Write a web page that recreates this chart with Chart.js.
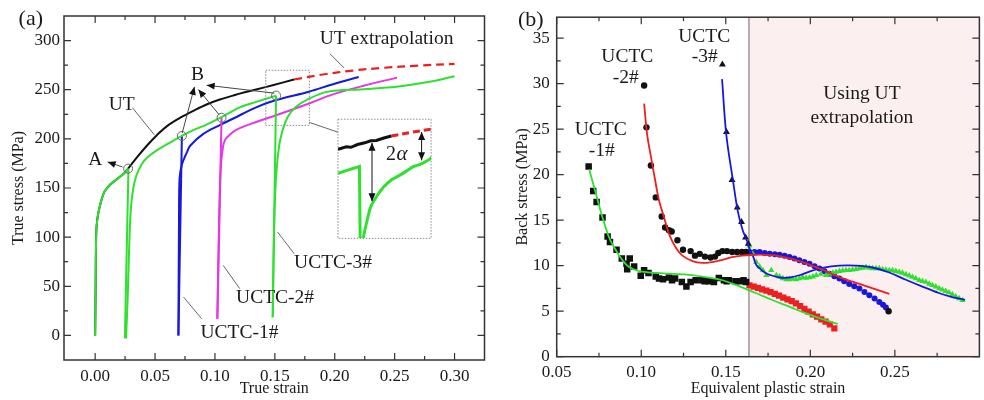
<!DOCTYPE html>
<html>
<head>
<meta charset="utf-8">
<script src="https://cdn.jsdelivr.net/npm/chart.js@4.4.1/dist/chart.umd.min.js"></script>
<style>
  html, body { margin: 0; padding: 0; background: #fff; }
  #wrap { position: relative; width: 984px; height: 400px; overflow: hidden; }
  canvas { position: absolute; top: 0; }
</style>
</head>
<body>
<div id="wrap">
  <canvas id="chartA" width="490" height="400" style="left:0"></canvas>
  <canvas id="chartB" width="494" height="400" style="left:490px"></canvas>
  <canvas id="inset"></canvas>
</div>
<script>
const FONT = '"Liberation Serif", "Times New Roman", serif';
const INK = '#1a1a1a';
const GREEN = '#2fe02f';
const BLUE = '#1818dc';
const MAGENTA = '#e635e6';
const RED = '#ec2020';

// ---------- (a) true stress - true strain ----------
const xTicksA = [0, 0.05, 0.1, 0.15, 0.2, 0.25, 0.3];
const xMinorA = [0.025, 0.075, 0.125, 0.175, 0.225, 0.275];
const yTicksA = [0, 50, 100, 150, 200, 250, 300];
const yMinorA = [25, 75, 125, 175, 225, 275];

// UT test
const utStrain = [0, 0.0004, 0.0009, 0.0018, 0.0036, 0.0077, 0.013, 0.0187, 0.0242, 0.0275, 0.0352, 0.0435, 0.0517, 0.06, 0.0711, 0.082, 0.093, 0.1041, 0.1151, 0.1207, 0.1344, 0.1482, 0.166];
const utStress = [0, 50, 104, 118, 130, 146, 154, 159.5, 165, 169.7, 181.6, 193.5, 204, 213, 221.5, 228.5, 235, 240, 244, 246, 250.2, 254.6, 260.4];
// UT extrapolation
const utExtStrain = [0.166, 0.19, 0.215, 0.24, 0.27, 0.3];
const utExtStress = [260.4, 265.5, 269.5, 272.2, 274.6, 276.3];

// shared UCTC path: first loading, unloading at A, reloading and hardening
const uctcLoadStrain = [0, 0.0004, 0.0009, 0.0018, 0.0036, 0.0077, 0.013, 0.0187, 0.0242, 0.0278];
const uctcLoadStress = [0, 50, 104, 118, 130, 146, 154, 159.5, 165, 169.7];
const uctcDrop0Strain = [0.0278, 0.0248];
const uctcDrop0Stress = [169.7, -3];
const uctcHardenStrain = [0.0258, 0.0272, 0.0283, 0.0297, 0.0316, 0.0345, 0.039, 0.0435, 0.0517, 0.0628, 0.0724, 0.082, 0.093, 0.1055, 0.1207, 0.1344, 0.151];
const uctcHardenStress = [-3, 40, 86, 127, 148, 163, 174.5, 181, 188.5, 196.5, 203, 208.8, 214.5, 222, 232, 237.6, 244];

// UCTC-1# (blue)
const uctc1DropStrain = [0.0724, 0.0695];
const uctc1DropStress = [203, 0];
const uctc1ReloadStrain = [0.0695, 0.07, 0.0705, 0.0724, 0.0765, 0.0793, 0.0903, 0.1041, 0.12, 0.1344, 0.151, 0.1785, 0.1978, 0.22];
const uctc1ReloadStress = [0, 120, 160, 174, 186, 193, 205, 214, 223.5, 232, 239.5, 248, 255.3, 263];

// UCTC-2# (magenta)
const uctc2DropStrain = [0.1055, 0.102];
const uctc2DropStress = [222, 17];
const uctc2ReloadStrain = [0.102, 0.1035, 0.1048, 0.1065, 0.1083, 0.1151, 0.1207, 0.1344, 0.151, 0.1785, 0.1978, 0.224, 0.252];
const uctc2ReloadStress = [17, 120, 170, 190, 198.6, 207, 211, 217.2, 224, 236, 245, 254, 262.3];

// UCTC-3# (green)
const uctc3DropStrain = [0.151, 0.1482];
const uctc3DropStress = [244, 18.6];
const uctc3ReloadStrain = [0.1482, 0.1492, 0.1505, 0.1523, 0.155, 0.1606, 0.1674, 0.1771, 0.1936, 0.224, 0.2514, 0.279, 0.3];
const uctc3ReloadStress = [18.6, 100, 150, 180, 202, 222, 232.5, 240, 247.8, 250.5, 253, 258, 263.7];

// circled points A and B
const markStrain = [0.0275, 0.0724, 0.1055, 0.151];
const markStress = [169.7, 203, 221.5, 244];

// zoom window and inset frame (a)
const zoomBoxStrain = [0.1424, 0.1788];
const zoomBoxStress = [213.7, 269.8];
const insetBoxStrain = [0.2027, 0.2804];
const insetBoxStress = [98.8, 220];

// inset (magnified view)
const insetXRange = [0.1376, 0.1871];
const insetYRange = [226, 268];
const insetUtStrain = [0.1376, 0.142, 0.1445, 0.148, 0.1518, 0.155, 0.158, 0.162, 0.166];
const insetUtStress = [257.3, 258.2, 258.0, 259.0, 259.6, 260.3, 260.4, 261.3, 262];
const insetExtStrain = [0.166, 0.1766, 0.1871];
const insetExtStress = [262, 263.3, 264.4];
const insetDropStrain = [0.1376, 0.142, 0.146, 0.149, 0.1495];
const insetDropStress = [248.8, 249.8, 250.6, 251.3, 218];
const insetReloadStrain = [0.1505, 0.1511, 0.153, 0.155, 0.1585, 0.162, 0.166, 0.1706, 0.174, 0.1777, 0.182, 0.1864, 0.1875];
const insetReloadStress = [220, 226, 232, 237, 241, 244.1, 246.5, 248.2, 249.6, 251.2, 252.2, 253.8, 254.4];
const insetArrowStrain = [0.1557, 0.1821];
const insetArrowTop = [259.6, 263.4];
const insetArrowBottom = [239, 253.4];

// ---------- (b) back stress ----------
const xTicksB = [0.05, 0.1, 0.15, 0.2, 0.25];
const xMinorB = [0.075, 0.125, 0.175, 0.225, 0.275];
const yTicksB = [0, 5, 10, 15, 20, 25, 30, 35];
const yMinorB = [2.5, 7.5, 12.5, 17.5, 22.5, 27.5, 32.5];
const extrapStart = 0.1637;

// UCTC-1#: measured (black squares), from UT extrapolation (red squares), fit (green)
const u1DataStrain = [0.0689, 0.0716, 0.0736, 0.0771, 0.0801, 0.0815, 0.0854, 0.0885, 0.0913, 0.0917, 0.0932, 0.0958, 0.0997, 0.1017, 0.1043, 0.1086, 0.1105, 0.1129, 0.1164, 0.1182, 0.12, 0.124, 0.1267, 0.1292, 0.1322, 0.1361, 0.1375, 0.14, 0.143, 0.1459, 0.1489, 0.1505, 0.1518, 0.1557, 0.1587, 0.1605, 0.162];
const u1DataStress = [20.9, 18.2, 17.0, 15.3, 13.2, 12.6, 11.75, 10.8, 10.2, 9.6, 10.8, 9.9, 8.9, 9.5, 9.2, 8.8, 8.6, 8.5, 8.7, 8.4, 8.6, 8.2, 7.7, 8.2, 8.4, 8.4, 8.3, 8.3, 8.2, 8.65, 8.4, 8.3, 8.4, 8.3, 8.3, 8.4, 8.2];
const u1ExtStrain = [0.164, 0.1665, 0.169, 0.1715, 0.174, 0.1765, 0.179, 0.1815, 0.184, 0.1865, 0.189, 0.1915, 0.194, 0.1965, 0.199, 0.2015, 0.204, 0.2065, 0.209, 0.2115, 0.2142];
const u1ExtStress = [7.85, 7.7, 7.55, 7.4, 7.25, 7.1, 6.9, 6.7, 6.5, 6.3, 6.1, 5.85, 5.55, 5.25, 4.95, 4.65, 4.4, 4.1, 3.85, 3.55, 3.1];
const u1FitStrain = [0.0692, 0.0732, 0.0771, 0.081, 0.085, 0.0889, 0.0928, 0.0988, 0.1086, 0.1184, 0.1282, 0.138, 0.148, 0.1577, 0.1676, 0.1778, 0.1875, 0.1975, 0.2075, 0.2162];
const u1FitStress = [20.6, 17.9, 15.3, 13.1, 11.7, 10.6, 9.85, 9.4, 9.2, 9.1, 9.0, 8.75, 8.4, 7.75, 7.0, 6.2, 5.5, 4.75, 4.1, 3.6];

// UCTC-2#: measured (black circles), extrapolated (blue circles), fit (red)
const u2DataStrain = [0.1017, 0.1031, 0.1057, 0.1086, 0.1121, 0.1141, 0.1164, 0.118, 0.1214, 0.1247, 0.1292, 0.1318, 0.1346, 0.1377, 0.141, 0.1436, 0.1456, 0.148, 0.1507, 0.1538, 0.1567, 0.1596, 0.162, 0.2463];
const u2DataStress = [29.8, 25.2, 21.0, 17.5, 15.4, 14.2, 13.9, 13.75, 12.8, 11.75, 11.6, 11.1, 11.3, 11.0, 10.9, 11.0, 11.4, 11.6, 11.6, 11.5, 11.5, 11.5, 11.5, 5.0];
const u2ExtStrain = [0.164, 0.167, 0.17, 0.173, 0.176, 0.179, 0.1818, 0.1848, 0.1877, 0.1906, 0.1935, 0.1965, 0.1995, 0.2025, 0.2054, 0.2084, 0.2113, 0.2142, 0.2172, 0.22, 0.223, 0.226, 0.229, 0.232, 0.2349, 0.238, 0.2408, 0.243, 0.2447];
const u2ExtStress = [11.5, 11.5, 11.5, 11.4, 11.3, 11.25, 11.2, 11.1, 10.95, 10.8, 10.6, 10.4, 10.2, 9.95, 9.7, 9.4, 9.1, 8.85, 8.6, 8.3, 8.0, 7.75, 7.5, 7.1, 6.75, 6.4, 6.0, 5.7, 5.4];
const u2FitStrain = [0.1017, 0.1035, 0.1057, 0.1086, 0.1106, 0.1135, 0.1164, 0.1204, 0.1244, 0.1303, 0.1361, 0.142, 0.148, 0.1538, 0.1597, 0.1676, 0.1778, 0.1877, 0.1975, 0.2073, 0.2172, 0.229, 0.2467];
const u2FitStress = [27.8, 24.4, 22.0, 19.0, 17.1, 15.3, 13.5, 12.0, 11.1, 10.5, 10.3, 10.4, 10.65, 10.95, 11.1, 11.2, 11.15, 10.8, 10.25, 9.55, 8.75, 8.0, 6.9];

// UCTC-3#: measured (black triangles), extrapolated (green triangles), fit (blue)
const u3DataStrain = [0.148, 0.1504, 0.1537, 0.1568, 0.1593, 0.1617, 0.1633];
const u3DataStress = [32.1, 24.7, 19.4, 16.4, 14.8, 13.1, 12.4];
const u3ExtStrain = [0.164, 0.166, 0.168, 0.17, 0.172, 0.174, 0.1769, 0.1799, 0.1818, 0.1838, 0.1858, 0.1877, 0.1897, 0.1916, 0.1936, 0.1955, 0.1975, 0.1995, 0.2015, 0.2035, 0.2063, 0.2093, 0.2113, 0.2133, 0.2152, 0.2172, 0.2191, 0.2211, 0.223, 0.225, 0.227, 0.229, 0.231, 0.2329, 0.2349, 0.2368, 0.2388, 0.2408, 0.2428, 0.2447, 0.2467, 0.2486, 0.2506, 0.2526, 0.2545, 0.2565, 0.2585, 0.2604, 0.2624, 0.2644, 0.2663, 0.2683, 0.2703, 0.2722, 0.2742, 0.2762, 0.2781, 0.2801, 0.282, 0.284, 0.286, 0.288, 0.29];
const u3ExtStress = [12.2, 11.3, 10.4, 9.9, 9.5, 8.95, 9.5, 8.95, 8.8, 8.6, 8.5, 8.5, 8.55, 8.5, 8.6, 8.7, 8.65, 8.7, 8.8, 8.95, 9.1, 8.95, 9.1, 9.2, 9.3, 9.4, 9.45, 9.5, 9.5, 9.55, 9.6, 9.7, 9.75, 9.85, 9.75, 9.7, 9.7, 9.7, 9.6, 9.55, 9.5, 9.5, 9.4, 9.3, 9.2, 9.05, 8.9, 8.75, 8.6, 8.4, 8.3, 8.2, 8.0, 7.85, 7.7, 7.5, 7.35, 7.2, 7.05, 6.85, 6.6, 6.4, 6.2];
const u3FitStrain = [0.1478, 0.1503, 0.1543, 0.1571, 0.16, 0.1622, 0.164, 0.166, 0.168, 0.17, 0.173, 0.176, 0.1818, 0.1877, 0.1935, 0.1995, 0.2073, 0.2172, 0.227, 0.2368, 0.2467, 0.2565, 0.2663, 0.276, 0.2839, 0.2915];
const u3FitStress = [30.5, 24.4, 19.3, 16.0, 13.9, 12.9, 11.9, 11.1, 10.1, 9.7, 9.25, 9.0, 8.7, 8.7, 8.95, 9.35, 9.75, 10.0, 10.0, 9.8, 9.25, 8.45, 7.7, 7.0, 6.55, 6.25];

// ---------- helpers ----------
function pts(xs, ys) {
  return xs.map((x, i) => ({ x: x, y: ys[i] }));
}

function line(xs, ys, color, width, extra) {
  return Object.assign({
    data: pts(xs, ys), showLine: true, borderColor: color, borderWidth: width,
    pointRadius: 0, tension: 0.35, fill: false
  }, extra || {});
}

function marks(xs, ys, style, color, r) {
  return {
    data: pts(xs, ys), showLine: false, pointStyle: style, pointRadius: r,
    pointBackgroundColor: color, pointBorderColor: color, pointBorderWidth: 0
  };
}

const tickFont = { family: FONT, size: 17 };
const titleFont = { family: FONT, size: 16 };

function xAxis(min, max, ticks, title, height) {
  return {
    type: 'linear', min: min, max: max,
    grid: { display: false, drawTicks: false },
    border: { display: false },
    ticks: { font: tickFont, color: INK, padding: 6, maxRotation: 0, autoSkip: false, callback: v => v.toFixed(2) },
    afterBuildTicks: s => { s.ticks = ticks.map(v => ({ value: v })); },
    afterFit: s => { s.height = height; },
    title: { display: true, text: title, font: titleFont, color: INK, padding: { top: 0, bottom: 2 } }
  };
}

function yAxis(min, max, ticks, title, width, pad, titlePad) {
  return {
    type: 'linear', min: min, max: max,
    grid: { display: false, drawTicks: false },
    border: { display: false },
    ticks: { font: tickFont, color: INK, padding: pad, autoSkip: false, callback: v => String(v) },
    afterBuildTicks: s => { s.ticks = ticks.map(v => ({ value: v })); },
    afterFit: s => { s.width = width; },
    title: { display: true, text: title, font: titleFont, color: INK, padding: { top: titlePad, bottom: 0 } }
  };
}

// box frame with inward ticks on all four sides
function framePlugin(xMajor, xMinor, yMajor, yMinor) {
  return {
    id: 'frame',
    afterDraw(chart) {
      const { ctx, chartArea: a, scales: { x, y } } = chart;
      ctx.save();
      ctx.strokeStyle = '#333';
      ctx.lineWidth = 1.5;
      ctx.strokeRect(a.left, a.top, a.right - a.left, a.bottom - a.top);
      ctx.lineWidth = 1.2;
      ctx.beginPath();
      const vx = (vals, len) => vals.forEach(v => {
        const p = x.getPixelForValue(v);
        ctx.moveTo(p, a.bottom); ctx.lineTo(p, a.bottom - len);
        ctx.moveTo(p, a.top); ctx.lineTo(p, a.top + len);
      });
      const vy = (vals, len) => vals.forEach(v => {
        const p = y.getPixelForValue(v);
        ctx.moveTo(a.left, p); ctx.lineTo(a.left + len, p);
        ctx.moveTo(a.right, p); ctx.lineTo(a.right - len, p);
      });
      vx(xMajor, 7); vx(xMinor, 4); vy(yMajor, 7); vy(yMinor, 4);
      ctx.stroke();
      ctx.restore();
    }
  };
}

function head(ctx, x1, y1, x2, y2, len, half) {
  const a = Math.atan2(y2 - y1, x2 - x1);
  const bx = x2 - len * Math.cos(a), by = y2 - len * Math.sin(a);
  ctx.beginPath();
  ctx.moveTo(x2, y2);
  ctx.lineTo(bx + half * Math.sin(a), by - half * Math.cos(a));
  ctx.lineTo(bx - half * Math.sin(a), by + half * Math.cos(a));
  ctx.closePath();
  ctx.fill();
}

function arrow(ctx, x1, y1, x2, y2, both) {
  ctx.beginPath(); ctx.moveTo(x1, y1); ctx.lineTo(x2, y2); ctx.stroke();
  head(ctx, x1, y1, x2, y2, 8, 3.5);
  if (both) head(ctx, x2, y2, x1, y1, 8, 3.5);
}

// ---------- annotations of (a) ----------
const leadersA = [
  [0.1961, 286.5, 0.2077, 272.2],
  [0.0311, 231.7, 0.0495, 204],
  [0.1523, 105.2, 0.1661, 83.2],
  [0.1069, 71.3, 0.1207, 47.6],
  [0.0738, 39, 0.0889, 17]
];
const arrowsA = [
  [0.0228, 171.4, 0.0104, 176.5],
  [0.0727, 206, 0.0829, 252.9],
  [0.1035, 224.5, 0.0862, 250.2],
  [0.1496, 246.5, 0.0931, 254.6]
];
const textsA = [
  ['UT extrapolation', 0.2432, 301.4],
  ['UT', 0.0221, 235],
  ['A', 0.0001, 178.2],
  ['B', 0.0855, 264.8],
  ['UCTC-3#', 0.1986, 74.3],
  ['UCTC-2#', 0.1502, 37.7],
  ['UCTC-1#', 0.1205, 3.1]
];

const notesA = {
  id: 'notesA',
  afterDatasetsDraw(chart) {
    const { ctx } = chart;
    const X = v => chart.scales.x.getPixelForValue(v);
    const Y = v => chart.scales.y.getPixelForValue(v);
    ctx.save();
    ctx.strokeStyle = '#888';
    ctx.lineWidth = 1;
    ctx.setLineDash([1.5, 1.5]);
    ctx.strokeRect(X(zoomBoxStrain[0]), Y(zoomBoxStress[1]), X(zoomBoxStrain[1]) - X(zoomBoxStrain[0]), Y(zoomBoxStress[0]) - Y(zoomBoxStress[1]));
    ctx.strokeRect(X(insetBoxStrain[0]), Y(insetBoxStress[1]), X(insetBoxStrain[1]) - X(insetBoxStrain[0]), Y(insetBoxStress[0]) - Y(insetBoxStress[1]));
    ctx.setLineDash([]);
    ctx.strokeStyle = '#666';
    ctx.beginPath();
    ctx.moveTo(X(zoomBoxStrain[1]), Y(zoomBoxStress[0]) - 3);
    ctx.lineTo(X(insetBoxStrain[0]), Y(insetBoxStress[1]) + 13);
    leadersA.forEach(l => { ctx.moveTo(X(l[0]), Y(l[1])); ctx.lineTo(X(l[2]), Y(l[3])); });
    ctx.stroke();
    ctx.strokeStyle = '#444';
    ctx.fillStyle = '#111';
    arrowsA.forEach(a => arrow(ctx, X(a[0]), Y(a[1]), X(a[2]), Y(a[3]), false));
    ctx.fillStyle = INK;
    ctx.textAlign = 'center';
    ctx.textBaseline = 'middle';
    ctx.font = '19.5px ' + FONT;
    textsA.forEach(t => ctx.fillText(t[0], X(t[1]), Y(t[2])));
    ctx.font = '22px ' + FONT;
    ctx.fillText('(a)', 30.8, 19);
    ctx.restore();
  }
};

const chartA = new Chart(document.getElementById('chartA'), {
  type: 'scatter',
  data: {
    datasets: [
      { data: pts(markStrain, markStress), showLine: false, pointStyle: 'circle', pointRadius: 4.5,
        pointBorderColor: '#666', pointBorderWidth: 1, pointBackgroundColor: 'rgba(0,0,0,0)' },
      line(uctc3ReloadStrain, uctc3ReloadStress, GREEN, 2),
      line(uctc3DropStrain, uctc3DropStress, GREEN, 2, { tension: 0 }),
      line(uctcHardenStrain, uctcHardenStress, GREEN, 2),
      line(uctcDrop0Strain, uctcDrop0Stress, GREEN, 2, { tension: 0 }),
      line(uctcLoadStrain, uctcLoadStress, GREEN, 2),
      line(uctc2DropStrain, uctc2DropStress, MAGENTA, 2, { tension: 0 }),
      line(uctc2ReloadStrain, uctc2ReloadStress, MAGENTA, 2),
      line(uctc1DropStrain, uctc1DropStress, BLUE, 2, { tension: 0 }),
      line(uctc1ReloadStrain, uctc1ReloadStress, BLUE, 2),
      line(utStrain, utStress, '#111', 2),
      line(utExtStrain, utExtStress, RED, 2.2, { borderDash: [8, 5] })
    ]
  },
  options: {
    responsive: false, animation: false, devicePixelRatio: 1,
    layout: { padding: { left: 0, top: 16, right: 1, bottom: 0 } },
    plugins: { legend: { display: false }, tooltip: { enabled: false } },
    scales: {
      x: xAxis(-0.026, 0.325, xTicksA, 'True strain', 40),
      y: yAxis(-25, 325, yTicksA, 'True stress (MPa)', 64, 4, 9.5)
    }
  },
  plugins: [notesA, framePlugin(xTicksA, xMinorA, yTicksA, yMinorA)]
});

// ---------- inset ----------
const insetNotes = {
  id: 'insetNotes',
  afterDatasetsDraw(chart) {
    const { ctx, scales: { x, y } } = chart;
    ctx.save();
    ctx.strokeStyle = '#111';
    ctx.fillStyle = '#111';
    ctx.lineWidth = 1;
    insetArrowStrain.forEach((v, i) => {
      const p = x.getPixelForValue(v);
      arrow(ctx, p, y.getPixelForValue(insetArrowBottom[i]), p, y.getPixelForValue(insetArrowTop[i]), true);
    });
    ctx.fillStyle = INK;
    ctx.textBaseline = 'middle';
    ctx.textAlign = 'left';
    const tx = x.getPixelForValue(0.1632), ty = y.getPixelForValue(255.4);
    ctx.font = '20px ' + FONT;
    ctx.fillText('2', tx, ty);
    ctx.font = 'italic 21px ' + FONT;
    ctx.fillText('\u03b1', tx + 10.5, ty);
    ctx.restore();
  }
};

const sx = chartA.scales.x, sy = chartA.scales.y;
const insetLeft = Math.round(sx.getPixelForValue(insetBoxStrain[0]));
const insetTop = Math.round(sy.getPixelForValue(insetBoxStress[1]));
const insetW = Math.round(sx.getPixelForValue(insetBoxStrain[1])) - insetLeft;
const insetH = Math.round(sy.getPixelForValue(insetBoxStress[0])) - insetTop;
const insetCanvas = document.getElementById('inset');
insetCanvas.width = insetW;
insetCanvas.height = insetH;
insetCanvas.style.left = insetLeft + 'px';
insetCanvas.style.top = insetTop + 'px';

new Chart(insetCanvas, {
  type: 'scatter',
  data: {
    datasets: [
      line(insetReloadStrain, insetReloadStress, GREEN, 3, { tension: 0.2 }),
      line(insetDropStrain, insetDropStress, GREEN, 3, { tension: 0 }),
      line(insetUtStrain, insetUtStress, '#111', 3, { tension: 0 }),
      line(insetExtStrain, insetExtStress, RED, 3, { borderDash: [7, 4] })
    ]
  },
  options: {
    responsive: false, animation: false, devicePixelRatio: 1,
    layout: { padding: 0 },
    plugins: { legend: { display: false }, tooltip: { enabled: false } },
    scales: {
      x: { type: 'linear', display: false, min: insetXRange[0], max: insetXRange[1] },
      y: { type: 'linear', display: false, min: insetYRange[0], max: insetYRange[1] }
    }
  },
  plugins: [insetNotes]
});

// ---------- (b) ----------
const textsB = [
  ['UCTC', 0.1372, 35.1], ['-3#', 0.1375, 32.9],
  ['UCTC', 0.0918, 32.9], ['-2#', 0.0908, 30.6],
  ['UCTC', 0.076, 24.9], ['-1#', 0.0766, 22.6],
  ['Using UT', 0.2305, 28.85], ['extrapolation', 0.2305, 26.26]
];

const notesB = {
  id: 'notesB',
  beforeDatasetsDraw(chart) {
    const { ctx, chartArea: a } = chart;
    const p = chart.scales.x.getPixelForValue(extrapStart);
    ctx.save();
    ctx.fillStyle = '#fcefef';
    ctx.fillRect(p, a.top, a.right - p, a.bottom - a.top);
    ctx.strokeStyle = '#8a8a8a';
    ctx.lineWidth = 1.3;
    ctx.beginPath(); ctx.moveTo(p, a.top); ctx.lineTo(p, a.bottom); ctx.stroke();
    ctx.restore();
  },
  afterDatasetsDraw(chart) {
    const { ctx } = chart;
    const X = v => chart.scales.x.getPixelForValue(v);
    const Y = v => chart.scales.y.getPixelForValue(v);
    ctx.save();
    ctx.fillStyle = INK;
    ctx.textAlign = 'center';
    ctx.textBaseline = 'middle';
    ctx.font = '19.5px ' + FONT;
    textsB.forEach(t => ctx.fillText(t[0], X(t[1]), Y(t[2])));
    ctx.font = '22px ' + FONT;
    ctx.fillText('(b)', 40.8, 20);
    ctx.restore();
  }
};

new Chart(document.getElementById('chartB'), {
  type: 'scatter',
  data: {
    datasets: [
      line(u1FitStrain, u1FitStress, GREEN, 1.8),
      line(u2FitStrain, u2FitStress, RED, 1.8),
      line(u3FitStrain, u3FitStress, BLUE, 1.8),
      marks(u3DataStrain, u3DataStress, 'triangle', '#111', 4),
      marks(u2DataStrain, u2DataStress, 'circle', '#111', 3.2),
      marks(u1DataStrain, u1DataStress, 'rect', '#111', 4.6),
      marks(u3ExtStrain, u3ExtStress, 'triangle', GREEN, 3.6),
      marks(u2ExtStrain, u2ExtStress, 'circle', BLUE, 3),
      marks(u1ExtStrain, u1ExtStress, 'rect', RED, 4.4)
    ]
  },
  options: {
    responsive: false, animation: false, devicePixelRatio: 1,
    layout: { padding: { left: 0, top: 16, right: 3.5, bottom: 0 } },
    plugins: { legend: { display: false }, tooltip: { enabled: false } },
    scales: {
      x: xAxis(0.05, 0.30, xTicksB, 'Equivalent plastic strain', 43.3),
      y: yAxis(0, 37.3, yTicksB, 'Back stress (MPa)', 66.7, 7, 23.4)
    }
  },
  plugins: [notesB, framePlugin(xTicksB, xMinorB, yTicksB, yMinorB)]
});
</script>
</body>
</html>
